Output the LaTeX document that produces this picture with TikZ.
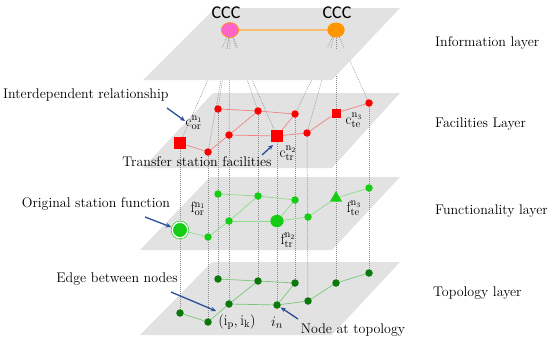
\documentclass[tikz,border=0pt]{standalone}
\usepackage{fontspec}
\newfontfamily\cccfont{Carlito}
\usetikzlibrary{arrows.meta,calc,shapes.geometric}
\definecolor{planegray}{RGB}{226,226,226}
\definecolor{dotgray}{RGB}{140,140,140}
\definecolor{redline}{RGB}{240,130,130}
\definecolor{funcgreen}{RGB}{20,205,20}
\definecolor{funcline}{RGB}{140,220,140}
\definecolor{topogreen}{RGB}{10,120,10}
\definecolor{topoline}{RGB}{120,200,120}
\definecolor{arrowblue}{RGB}{40,80,150}
\definecolor{cccpink}{RGB}{255,100,200}
\definecolor{cccorange}{RGB}{255,150,0}
\definecolor{cccline}{RGB}{248,190,110}
\pgfdeclarelayer{planelayer}
\pgfdeclarelayer{linelayer}
\pgfdeclarelayer{infolayer}
\pgfsetlayers{planelayer,linelayer,infolayer,main}
\tikzset{
  plane/.style={fill=planegray, draw=none},
  dotl/.style={draw=dotgray, line width=0.5pt, dash pattern=on 1pt off 1pt},
  rc/.style={circle, fill=red, inner sep=0pt, minimum size=7.5pt},
  rsqbig/.style={rectangle, fill=red, inner sep=0pt, minimum size=12.5pt},
  rsqsmall/.style={rectangle, fill=red, inner sep=0pt, minimum size=9pt},
  fc/.style={circle, fill=funcgreen, inner sep=0pt, minimum size=7.5pt},
  fbig/.style={ellipse, fill=funcgreen, inner sep=0pt, minimum width=13.4pt, minimum height=12.4pt},
  fdouble/.style={circle, fill=funcgreen, draw=funcgreen, double=white, double distance=1.4pt, line width=0.6pt, inner sep=0pt, minimum size=15.6pt},
  ftri/.style={regular polygon, regular polygon sides=3, fill=funcgreen, inner sep=0pt, minimum size=14pt},
  tc/.style={circle, fill=topogreen, inner sep=0pt, minimum size=7.5pt},
  redge/.style={draw=redline, line width=0.7pt},
  fedge/.style={draw=funcline, line width=0.7pt},
  tedge/.style={draw=topoline, line width=0.7pt},
  lbl/.style={font=\fontsize{14}{16}\selectfont, inner sep=0pt},
  mlbl/.style={font=\fontsize{15}{17}\selectfont, inner sep=0pt},
  barrow/.style={draw=arrowblue, line width=1.3pt, -{Stealth[length=5pt,width=4.5pt]}},
  ccc/.style={ellipse, inner sep=0pt, minimum width=17.4pt, minimum height=15pt}
}
\begin{document}
\begin{tikzpicture}[x=1pt,y=-1pt]
\useasboundingbox (0,0) rectangle (550,343);

% planes
\begin{pgfonlayer}{planelayer}
\fill[plane] (143,168) -- (332,168) -- (400,93) -- (213,93) -- cycle;
\fill[plane] (140,250) -- (332,250) -- (400,177) -- (210,177) -- cycle;
\fill[plane] (140,335) -- (332,335) -- (400,262) -- (212,262) -- cycle;
\end{pgfonlayer}
\begin{pgfonlayer}{infolayer}
\fill[plane] (143,80) -- (332,80) -- (400,8) -- (215,8) -- cycle;
\end{pgfonlayer}

% information layer nodes
\node[ccc, fill=cccpink, draw=cccorange, line width=0.6pt] (cp) at (230,30) {};
\node[ccc, fill=cccorange] (co) at (336,30) {};
\draw[draw=cccline, line width=1.4pt] (cp) -- (co);
\node[font=\cccfont\fontsize{18}{20}\selectfont, inner sep=0pt] (cccp) at (226,13) {CCC};
\node[font=\cccfont\fontsize{18}{20}\selectfont, inner sep=0pt] (ccco) at (337,13) {CCC};

% facilities layer
\node[rsqbig] (f1) at (180,143) {};
\node[rc] (f2) at (208,152) {};
\node[rc] (f3) at (229,135) {};
\node[rc] (f4) at (218,109) {};
\node[rc] (f5) at (258,111) {};
\node[rc] (f6) at (295,114) {};
\node[rsqbig] (f7) at (277,136) {};
\node[rc] (f8) at (307,133) {};
\node[rsqsmall] (f9) at (336,113) {};
\node[rc] (f10) at (369,103) {};

% functionality layer
\node[fdouble] (g1) at (180,230) {};
\node[fc] (g2) at (208,237) {};
\node[fc] (g3) at (229,221) {};
\node[fc] (g4) at (218,194) {};
\node[fc] (g5) at (258,196) {};
\node[fc] (g6) at (295,200) {};
\node[fbig] (g7) at (277,221) {};
\node[fc] (g8) at (308,217) {};
\node[ftri] (g9) at (336,198) {};
\node[fc] (g10) at (369,188) {};

% topology layer
\node[tc] (t1) at (180,313) {};
\node[tc] (t2) at (208,322) {};
\node[tc] (t3) at (229,304) {};
\node[tc] (t4) at (218,279) {};
\node[tc] (t5) at (258,281) {};
\node[tc] (t6) at (295,283) {};
\node[tc] (t7) at (277,305) {};
\node[tc] (t8) at (308,301) {};
\node[tc] (t9) at (336,283) {};
\node[tc] (t10) at (369,273) {};

% dotted interlayer lines
\begin{pgfonlayer}{linelayer}
\foreach \i in {1,2,3,4,5,7} { \draw[dotl] (cp.center) -- (f\i.center); }
\foreach \i in {6,8,9,10} { \draw[dotl] (co.center) -- (f\i.center); }
\foreach \i in {1,...,10} { \draw[dotl] (f\i.center) -- (t\i.center); }
\end{pgfonlayer}
% fans over the information plane
\foreach \i in {1,2,3,4,5,7} { \draw[dotl] (cp) -- ($(cp.center)!19pt!(f\i.center)$); }
\foreach \i in {6,8,9,10} { \draw[dotl] (co) -- ($(co.center)!19pt!(f\i.center)$); }

% graph edges
\foreach \a/\b in {1/2,2/3,3/7,3/5,4/5,5/6,6/7,7/8,8/9,9/10} {
  \draw[redge] (f\a) -- (f\b);
  \draw[fedge] (g\a) -- (g\b);
  \draw[tedge] (t\a) -- (t\b);
}

% math labels
\node[mlbl] (lcor) at (194,123) {$\mathrm{c}^{\mathrm{n}_1}_{\mathrm{or}}$};
\node[mlbl] (lctr) at (288,153) {$\mathrm{c}^{\mathrm{n}_2}_{\mathrm{tr}}$};
\node[mlbl] (lcte) at (354,120) {$\mathrm{c}^{\mathrm{n}_3}_{\mathrm{te}}$};
\node[mlbl] (lfor) at (198,209) {$\mathrm{f}^{\mathrm{n}_1}_{\mathrm{or}}$};
\node[mlbl] (lftr) at (288,240) {$\mathrm{f}^{\mathrm{n}_2}_{\mathrm{tr}}$};
\node[mlbl] (lfte) at (354,208) {$\mathrm{f}^{\mathrm{n}_3}_{\mathrm{te}}$};
\node[mlbl] (lipk) at (237,322) {$(\mathrm{i}_{\mathrm{p}},\mathrm{i}_{\mathrm{k}})$};
\node[mlbl] (lin) at (277,323) {$i_n$};

% text labels
\node[lbl, anchor=west] (infol) at (435,43) {Information layer};
\node[lbl, anchor=west] (facl) at (435,124) {Facilities Layer};
\node[lbl, anchor=west] (funcl) at (435,211) {Functionality layer};
\node[lbl, anchor=west] (topol) at (433,293) {Topology layer};
\node[lbl, anchor=west] (irel) at (3,95) {Interdependent relationship};
\node[lbl] (tsf) at (197,162) {Transfer station facilities};
\node[lbl] (osf) at (96,204) {Original station function};
\node[lbl] (ebn) at (117,279) {Edge between nodes};
\node[lbl] (nat) at (353,330) {Node at topology};

% blue arrows
\coordinate (a1s) at (167,108); \coordinate (a1e) at (185,121);
\coordinate (a2s) at (262,155); \coordinate (a2e) at (273,145);
\coordinate (a3s) at (145,217); \coordinate (a3e) at (171,227);
\coordinate (a4s) at (171,292); \coordinate (a4e) at (216,311);
\coordinate (a5s) at (298,319);
\draw[barrow] (a1s) -- (a1e);
\draw[barrow] (a2s) -- (a2e);
\draw[barrow] (a3s) -- (a3e);
\draw[barrow] (a4s) -- (a4e);
\draw[barrow, shorten >=0.5pt] (a5s) -- (t7);
\end{tikzpicture}
\end{document}
